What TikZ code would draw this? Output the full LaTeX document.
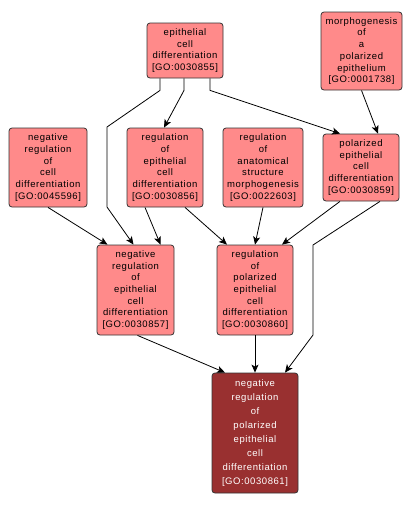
\documentclass[tikz,border=0pt]{standalone}
\usepackage{fontspec}
\setmainfont{Liberation Sans}[LetterSpace=6]
\usetikzlibrary{arrows.meta}
\definecolor{lightred}{RGB}{255,138,138}
\definecolor{darkred}{RGB}{153,48,48}
\tikzset{
  goterm/.style={draw=black!80, fill=lightred, rounded corners=3pt, line width=0.8pt,
    inner sep=0pt, align=center, font=\fontsize{9.5}{11.7}\selectfont, text=black},
  goleaf/.style={goterm, fill=darkred, text=white, font=\fontsize{9.5}{14}\selectfont},
  link/.style={draw=black, line width=0.8pt, -{Stealth[length=8pt,width=7pt,inset=2pt]}}
}
\begin{document}
\begin{tikzpicture}[x=1pt,y=-1pt]
\useasboundingbox (0,0) rectangle (412,507);
\node[goterm, minimum width=76pt, minimum height=55pt] (A) at (185,50.5) {epithelial\\cell\\differentiation\\{}[GO:0030855]};
\node[goterm, minimum width=81pt, minimum height=78pt] (B) at (361.5,51) {morphogenesis\\of\\a\\polarized\\epithelium\\{}[GO:0001738]};
\node[goterm, minimum width=78pt, minimum height=79pt] (C) at (48,167.5) {negative\\regulation\\of\\cell\\differentiation\\{}[GO:0045596]};
\node[goterm, minimum width=76pt, minimum height=79pt] (D) at (165,167.5) {regulation\\of\\epithelial\\cell\\differentiation\\{}[GO:0030856]};
\node[goterm, minimum width=80pt, minimum height=79pt] (E) at (263,167.5) {regulation\\of\\anatomical\\structure\\morphogenesis\\{}[GO:0022603]};
\node[goterm, minimum width=76pt, minimum height=67pt] (F) at (361,167.5) {polarized\\epithelial\\cell\\differentiation\\{}[GO:0030859]};
\node[goterm, minimum width=77pt, minimum height=90pt] (G) at (135.5,290) {negative\\regulation\\of\\epithelial\\cell\\differentiation\\{}[GO:0030857]};
\node[goterm, minimum width=76pt, minimum height=90pt] (H) at (255,290) {regulation\\of\\polarized\\epithelial\\cell\\differentiation\\{}[GO:0030860]};
\node[goleaf, minimum width=86pt, minimum height=120pt] (I) at (255,433) {negative\\regulation\\of\\polarized\\epithelial\\cell\\differentiation\\{}[GO:0030861]};

\draw[link] ([xshift=-1pt]A.south) -- ++(0,12) -- ([xshift=-1pt]D.north);
\draw[link] ([xshift=-25pt]A.south) -- ++(0,12) -- (107,127) -- (107,207) -- ([xshift=-2pt]G.north);
\draw[link] ([xshift=25pt]A.south) -- ++(0,12) -- ([xshift=-21pt]F.north);
\draw[link] (B.south) -- ([xshift=17pt]F.north);
\draw[link] (C.south) -- ([xshift=-28pt]G.north);
\draw[link] ([xshift=-20pt]D.south) -- ([xshift=25pt]G.north);
\draw[link] ([xshift=20pt]D.south) -- ([xshift=-28pt]H.north);
\draw[link] (E.south) -- (H.north);
\draw[link] ([xshift=-21pt]F.south) -- ([xshift=27pt]H.north);
\draw[link] ([xshift=19pt]F.south) -- (313,245) -- (313,335) -- ([xshift=30pt]I.north);
\draw[link] ([xshift=2pt]G.south) -- ([xshift=-30pt]I.north);
\draw[link] (H.south) -- (I.north);
\end{tikzpicture}
\end{document}
